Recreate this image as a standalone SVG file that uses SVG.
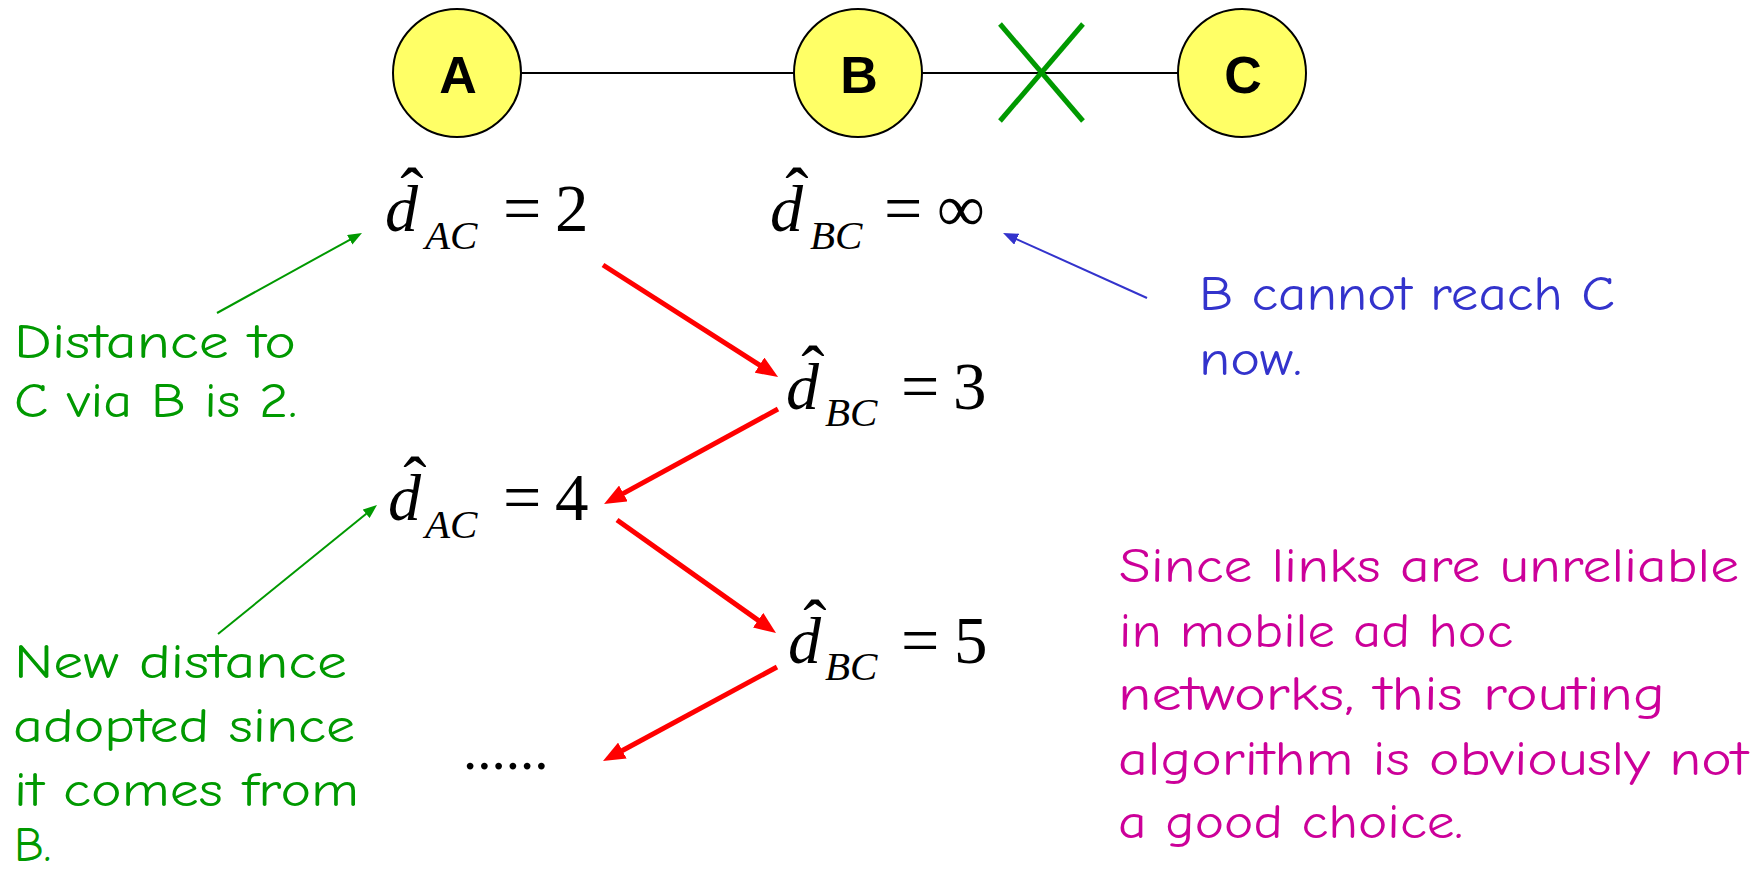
<svg xmlns="http://www.w3.org/2000/svg" width="1760" height="874" viewBox="0 0 1760 874">
<defs>
<style>
.node{fill:#FFFF66;stroke:#000;stroke-width:2}
.lbl{font-family:"Liberation Sans",Arial,sans-serif;font-weight:bold;font-size:52px;fill:#000;text-anchor:middle}
.edge{stroke:#000;stroke-width:2}
.math{font-family:"Liberation Serif","Times New Roman",serif;fill:#000}
.d{font-style:italic;font-size:66px}
.sub{font-style:italic;font-size:41px}
.rm{font-size:67px}
.eq{font-size:68px}
.hat{font-size:70px;text-anchor:middle}
.dots{font-size:57px}
.comic{font-family:"Comic Sans MS","Comic Neue","Noto Sans",sans-serif;font-size:48px}
.g{fill:#009900}
.b{fill:#3333CC}
.m{fill:#CC0099}
.red{stroke:#FF0000;stroke-width:5;fill:none}
.gr{stroke:#009900;stroke-width:2;fill:none}
.bl{stroke:#3333CC;stroke-width:2;fill:none}
</style>
<marker id="ahRed" markerUnits="userSpaceOnUse" viewBox="0 0 22 18" refX="2" refY="9" markerWidth="22" markerHeight="18" orient="auto"><path d="M0,0 L22,9 L0,18 z" fill="#FF0000"/></marker>
<marker id="ahGreen" markerUnits="userSpaceOnUse" viewBox="0 0 14 11" refX="1" refY="5.5" markerWidth="14" markerHeight="11" orient="auto"><path d="M0,0 L14,5.5 L0,11 z" fill="#009900"/></marker>
<marker id="ahBlue" markerUnits="userSpaceOnUse" viewBox="0 0 15 12" refX="1" refY="6" markerWidth="15" markerHeight="12" orient="auto"><path d="M0,0 L15,6 L0,12 z" fill="#3333CC"/></marker>
</defs>
<rect width="1760" height="874" fill="#fff"/>

<g id="links">
<line class="edge" x1="521" y1="73" x2="794" y2="73"/>
<line class="edge" x1="922" y1="73" x2="1178" y2="73"/>
</g>
<g id="broken-mark">
<line x1="1000" y1="24" x2="1083" y2="121" stroke="#009900" stroke-width="5"/>
<line x1="1083" y1="24" x2="1000" y2="121" stroke="#009900" stroke-width="5"/>
</g>

<g id="node-A"><circle class="node" cx="457" cy="73" r="64"/><text class="lbl" x="458" y="93">A</text></g>
<g id="node-B"><circle class="node" cx="858" cy="73" r="64"/><text class="lbl" x="859" y="93">B</text></g>
<g id="node-C"><circle class="node" cx="1242" cy="73" r="64"/><text class="lbl" x="1243" y="93">C</text></g>

<g id="dAC2" class="math">
<text class="hat" x="412" y="216">ˆ</text>
<text class="d" x="385" y="231">d</text>
<text class="sub" x="425" y="249">AC</text>
<text class="eq" x="503" y="231">=</text>
<text class="rm" x="555" y="231">2</text>
</g>
<g id="dBCinf" class="math">
<text class="hat" x="797" y="216">ˆ</text>
<text class="d" x="770" y="231">d</text>
<text class="sub" x="810" y="249">BC</text>
<text class="eq" x="884" y="231">=</text>
<text class="rm" x="937" y="231">∞</text>
</g>
<g id="dBC3" class="math">
<text class="hat" x="813" y="394">ˆ</text>
<text class="d" x="786" y="409">d</text>
<text class="sub" x="825" y="426">BC</text>
<text class="eq" x="901" y="409">=</text>
<text class="rm" x="953" y="409">3</text>
</g>
<g id="dAC4" class="math">
<text class="hat" x="415" y="505">ˆ</text>
<text class="d" x="388" y="520">d</text>
<text class="sub" x="425" y="538">AC</text>
<text class="eq" x="503" y="520">=</text>
<text class="rm" x="555" y="520">4</text>
</g>
<g id="dBC5" class="math">
<text class="hat" x="815" y="648">ˆ</text>
<text class="d" x="788" y="663">d</text>
<text class="sub" x="825" y="680">BC</text>
<text class="eq" x="901" y="663">=</text>
<text class="rm" x="954" y="663">5</text>
</g>
<g id="dots" class="math"><text class="dots" x="463" y="769">......</text></g>

<g id="note-distance" class="comic g">
<text x="14" y="358" textLength="282" lengthAdjust="spacingAndGlyphs">Distance to</text>
<text x="14" y="417" textLength="283" lengthAdjust="spacingAndGlyphs">C via B is 2.</text>
</g>
<g id="note-new" class="comic g">
<text x="14" y="678" textLength="333" lengthAdjust="spacingAndGlyphs">New distance</text>
<text x="13" y="742" textLength="342" lengthAdjust="spacingAndGlyphs">adopted since</text>
<text x="14" y="806" textLength="345" lengthAdjust="spacingAndGlyphs">it comes from</text>
<text x="14" y="861">B.</text>
</g>
<g id="note-blue" class="comic b">
<text x="1199" y="310" textLength="416" lengthAdjust="spacingAndGlyphs">B cannot reach C</text>
<text x="1199" y="375" textLength="103" lengthAdjust="spacingAndGlyphs">now.</text>
</g>
<g id="note-magenta" class="comic m">
<text x="1119" y="582" textLength="620" lengthAdjust="spacingAndGlyphs">Since links are unreliable</text>
<text x="1119" y="647" textLength="394" lengthAdjust="spacingAndGlyphs">in mobile ad hoc</text>
<text x="1118" y="710" textLength="547" lengthAdjust="spacingAndGlyphs">networks, this routing</text>
<text x="1118" y="775" textLength="630" lengthAdjust="spacingAndGlyphs">algorithm is obviously not</text>
<text x="1118" y="838" textLength="345" lengthAdjust="spacingAndGlyphs">a good choice.</text>
</g>

<g id="connectors">
<line class="red" x1="603" y1="265" x2="761.2" y2="366.2" marker-end="url(#ahRed)"/>
<line class="red" x1="778" y1="409" x2="621.6" y2="494.4" marker-end="url(#ahRed)"/>
<line class="red" x1="617" y1="520" x2="759.7" y2="621.4" marker-end="url(#ahRed)"/>
<line class="red" x1="777" y1="667" x2="620.6" y2="751.5" marker-end="url(#ahRed)"/>
<line class="gr" x1="217" y1="313" x2="350.6" y2="239.3" marker-end="url(#ahGreen)"/>
<line class="gr" x1="218" y1="634" x2="366.9" y2="513.2" marker-end="url(#ahGreen)"/>
<line class="bl" x1="1147" y1="298" x2="1015.8" y2="238.8" marker-end="url(#ahBlue)"/>
</g>
</svg>
